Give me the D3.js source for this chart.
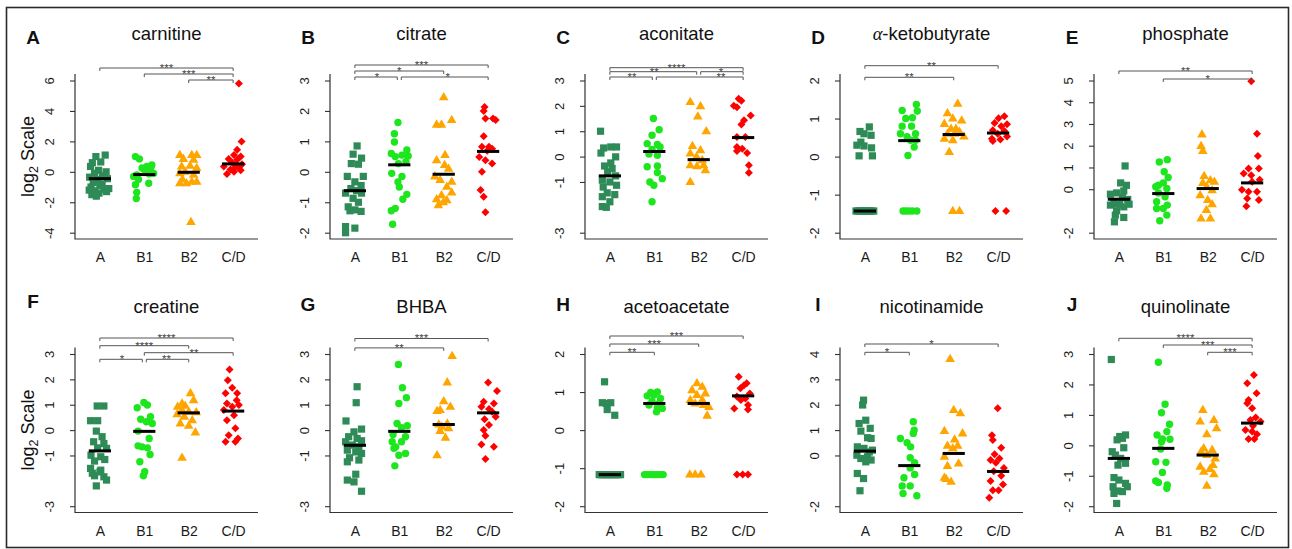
<!DOCTYPE html>
<html>
<head>
<meta charset="utf-8">
<script src="https://cdn.jsdelivr.net/npm/d3@7"></script>
<style>
  html, body { margin: 0; padding: 0; background: #fff; }
  svg text { font-family: "Liberation Sans", Arial, Helvetica, sans-serif; }
</style>
</head>
<body>
<svg id="fig" width="1292" height="549"></svg>
<script>
// ---------- data ----------
const groups = ["A", "B1", "B2", "C/D"];
const panelLetters = ["A", "B", "C", "D", "E", "F", "G", "H", "I", "J"];
const metabolites = ["carnitine", "citrate", "aconitate", "α-ketobutyrate", "phosphate",
                     "creatine", "BHBA", "acetoacetate", "nicotinamide", "quinolinate"];

// y-axis tick labels (log2 scale)
const carnitineTicks    = [-4, -2, 0, 2, 4, 6];
const citrateTicks      = [-2, -1, 0, 1, 2, 3];
const aconitateTicks    = [-3, -1, 0, 1, 2, 3];
const ketobutyrateTicks = [-2, -1, 0, 1, 2];
const phosphateTicks    = [-2, 0, 1, 2, 3, 4, 5];
const creatineTicks     = [-3, -1, 0, 1, 2, 3];
const bhbaTicks         = [-3, -1, 0, 1, 2, 3];
const acetoacetateTicks = [-2, -1, 0, 1, 2];
const nicotinamideTicks = [-2, 0, 1, 2, 3, 4];
const quinolinateTicks  = [-2, -1, 0, 1, 2, 3];

// samples per group: [log2 value, horizontal jitter in 1/100 of a group slot]
const carnitinePoints = [
  [[1.0,-9],[1.1,12],[0.6,-17],[0.65,2],[0.35,-21],[0.1,-3],[0.0,14],[-0.1,-12],[-0.25,6],[-0.35,-23],[-0.5,-5],[-0.45,17],[-0.7,-15],[-0.8,5],[-1.0,-20],[-0.9,0],[-1.1,20],[-1.25,-11],[-1.15,9],[-1.5,-18],[-1.4,-2],[-1.6,-8],[-1.3,15],[-1.2,-24]],
  [[1.0,-20],[0.85,-11],[0.45,17],[0.35,6],[0.25,-5],[0.3,15],[0.15,0],[-0.2,-17],[-0.13,11],[-0.3,-24],[-0.1,21],[-0.5,-13],[-0.75,10],[-0.85,-20],[-1.35,-17],[-1.75,-18]],
  [[1.1,-20],[1.1,7],[1.1,18],[0.85,-12],[0.8,11],[0.35,-16],[0.4,3],[0.25,18],[0.0,-8],[-0.1,-20],[-0.2,11],[-0.5,-14],[-0.65,7],[-0.65,18],[-0.75,-20],[-0.75,-5],[-3.3,5]],
  [[5.8,13],[2.0,19],[1.45,9],[1.1,2],[1.0,17],[0.85,-10],[0.8,9],[0.6,-2],[0.5,20],[0.35,-21],[0.3,13],[0.3,5],[0.15,-6],[0.0,2],[0.1,17],[-0.15,-14]]
];
const carnitineMedians = [-0.45, -0.18, -0.03, 0.52];

const citratePoints = [
  [[0.85,5],[0.58,-4],[0.45,15],[0.27,-8],[0.25,8],[-0.15,19],[-0.15,-17],[-0.33,0],[-0.45,14],[-0.55,-9],[-0.62,4],[-0.7,-21],[-0.7,15],[-0.87,-4],[-1.0,8],[-1.15,-15],[-1.25,0],[-1.3,14],[-1.28,-11],[-1.8,-21],[-1.85,0],[-2.0,-21]],
  [[1.62,-3],[1.25,-11],[0.98,-11],[0.6,-18],[0.72,17],[0.55,6],[0.5,-9],[0.33,15],[0.27,-2],[0.52,20],[-0.05,-17],[-0.15,6],[-0.33,-3],[-0.5,0],[-0.74,17],[-0.9,8],[-1.2,-9],[-1.28,-18],[-1.72,-15]],
  [[2.45,0],[1.55,-16],[1.55,-5],[1.7,18],[0.55,3],[0.38,-16],[0.22,2],[0.1,11],[-0.15,-20],[-0.27,-8],[-0.33,18],[-0.49,7],[-0.68,18],[-0.77,-5],[-0.9,-16],[-0.93,7],[-1.1,-12],[-1.0,-1]],
  [[2.13,-8],[2.0,-10],[1.75,-6],[1.75,11],[1.7,17],[1.17,-10],[0.82,-14],[0.82,2],[0.76,9],[0.69,-2],[0.49,-20],[0.38,-6],[0.27,9],[0.0,-14],[-0.6,-17],[-0.82,-10],[-1.33,-6]]
];
const citrateMedians = [-0.62, 0.23, -0.08, 0.67];

const aconitatePoints = [
  [[1.0,-21],[0.34,-14],[0.38,2],[0.38,15],[0.14,-20],[-0.01,13],[-0.25,2],[-0.37,-12],[-0.47,5],[-0.6,-5],[-0.76,13],[-0.93,-17],[-1.0,0],[-1.13,15],[-1.2,-15],[-1.43,-6],[-1.5,11],[-1.58,-17],[-1.78,0],[-2.0,-8],[-1.97,-17]],
  [[1.5,-2],[1.06,11],[0.84,-5],[0.51,-16],[0.48,7],[0.28,-5],[0.38,13],[0.1,-12],[0.05,7],[-0.4,-16],[-0.37,7],[-0.63,7],[-0.87,18],[-1.0,-10],[-1.13,-1],[-1.78,-5]],
  [[2.15,-19],[1.98,4],[1.58,-2],[1.0,17],[0.42,-14],[0.25,4],[0.12,-19],[-0.01,-5],[-0.14,8],[-0.34,-19],[-0.34,11],[-0.38,-4],[-0.54,15],[-1.0,-19]],
  [[2.28,-10],[2.0,-21],[1.95,-14],[2.2,-4],[1.62,17],[1.43,2],[1.27,-4],[0.77,-14],[0.77,5],[0.38,-14],[0.31,-2],[0.22,-14],[0.14,9],[-0.34,13],[-0.64,13]]
];
const aconitateMedians = [-0.76, 0.2, -0.12, 0.75];

const ketobutyratePoints = [
  [[0.66,-11],[0.78,10],[0.6,-2],[0.56,14],[0.3,-18],[0.28,-2],[0.38,-9],[0.23,15],[0.02,-13],[0.02,17],[-1.43,-20],[-1.43,-16],[-1.43,-12],[-1.43,-8],[-1.43,-4],[-1.43,0],[-1.43,4],[-1.43,8],[-1.43,12],[-1.43,16],[-1.43,20],[-1.43,-2]],
  [[1.37,16],[1.21,-16],[1.2,18],[1.02,7],[1.0,-8],[0.8,-16],[0.8,5],[0.6,14],[0.6,-20],[0.52,-5],[0.43,3],[0.43,14],[0.25,11],[0.03,-3],[-1.43,-14],[-1.43,-8],[-1.43,-1],[-1.43,7],[-1.43,17]],
  [[1.39,9],[1.14,-14],[1.0,-2],[0.86,-21],[0.95,18],[0.73,-6],[0.73,5],[0.65,13],[0.6,-14],[0.53,23],[0.47,-21],[0.43,-2],[0.6,2],[0.12,-10],[-1.43,-2],[-1.43,13]],
  [[1.06,14],[1.01,1],[0.88,-8],[0.85,20],[0.8,7],[0.69,-12],[0.67,14],[0.6,-1],[0.53,20],[0.47,-14],[0.45,5],[0.41,-12],[-1.43,-6],[-1.43,18]]
];
const ketobutyrateMedians = [-1.43, 0.42, 0.58, 0.62];

const phosphatePoints = [
  [[1.07,14],[0.29,4],[0.18,17],[-0.08,11],[-0.23,-19],[-0.17,-5],[-0.38,8],[-0.47,20],[-0.66,-11],[-0.69,2],[-0.69,23],[-0.73,-19],[-0.81,11],[-0.99,-5],[-1.3,11],[-1.19,-8],[-1.5,-10]],
  [[1.36,9],[1.25,-9],[0.8,2],[0.54,11],[0.29,0],[0.18,-11],[0.11,-17],[0.03,8],[-0.17,-11],[-0.35,4],[-0.58,-15],[-0.73,9],[-0.89,0],[-0.89,-15],[-1.19,8],[-1.45,-8]],
  [[2.52,-13],[1.99,-15],[1.76,-11],[0.61,-8],[0.41,6],[0.34,15],[0.29,-11],[0.11,-2],[-0.05,10],[-0.28,-17],[-0.5,0],[-0.69,10],[-0.96,-3],[-1.35,-15],[-1.35,6]],
  [[4.97,-2],[2.55,11],[1.53,13],[0.95,-8],[0.95,15],[0.72,-19],[0.64,-2],[0.44,17],[0.34,0],[-0.02,-23],[-0.12,-8],[-0.12,11],[-0.43,-11],[-0.5,15],[-0.78,-13]]
];
const phosphateMedians = [-0.46, -0.2, 0.03, 0.29];

const creatinePoints = [
  [[0.95,-6],[0.95,9],[0.37,-21],[0.37,-5],[-0.04,-8],[-0.26,5],[-0.46,-14],[-0.53,9],[-0.7,-5],[-0.72,15],[-0.99,-20],[-1.05,2],[-1.22,-12],[-1.16,11],[-1.51,-21],[-1.58,2],[-1.65,0],[-1.7,-17],[-1.8,-12],[-1.84,9],[-1.97,15],[-2.2,-8]],
  [[0.88,-16],[1.09,-1],[0.99,7],[0.53,14],[0.43,-8],[0.33,5],[0.26,18],[-0.04,-14],[-0.33,11],[-0.62,-14],[-0.66,-5],[-0.7,7],[-0.96,13],[-1.25,-10],[-1.64,1],[-1.8,-2]],
  [[1.45,4],[1.05,-15],[1.18,11],[0.96,-8],[0.92,-25],[0.79,-15],[0.72,0],[0.7,17],[0.62,-26],[0.53,-10],[0.39,8],[0.26,-19],[0.17,0],[-0.09,15],[-1.09,-15]],
  [[2.39,-8],[1.97,-12],[1.67,-2],[1.45,-17],[1.45,9],[1.18,8],[1.05,-14],[0.99,13],[0.92,-2],[0.79,-21],[0.59,2],[0.39,-14],[0.07,5],[-0.2,-10],[-0.33,11],[-0.46,-17],[-0.46,5]]
];
const creatineMedians = [-0.82, -0.05, 0.68, 0.75];

const bhbaPoints = [
  [[1.71,5],[1.08,3],[0.36,-20],[0.04,15],[-0.07,-2],[-0.26,-14],[-0.33,5],[-0.46,-21],[-0.42,15],[-0.59,-6],[-0.66,9],[-0.79,-17],[-0.86,2],[-0.92,15],[-1.09,-12],[-1.18,9],[-1.25,-17],[-1.74,2],[-1.97,-17],[-2.04,-2],[-2.41,15]],
  [[2.59,-2],[1.67,7],[1.28,16],[1.05,-1],[0.26,-5],[0.17,18],[0.09,5],[-0.17,-14],[-0.26,14],[-0.46,-16],[-0.46,5],[-0.66,-8],[-0.72,-12],[-0.92,14],[-0.99,-1],[-1.41,-10]],
  [[2.92,19],[1.88,8],[1.14,0],[0.75,-15],[0.92,15],[0.79,-8],[0.26,8],[0.22,-11],[0.13,-4],[0.07,11],[-0.04,-8],[-0.3,4],[-0.99,-15]],
  [[1.88,0],[1.54,20],[1.12,-10],[1.05,13],[0.92,-15],[0.83,2],[0.72,9],[0.53,17],[0.43,-8],[0.2,2],[0.0,-10],[-0.22,-6],[-0.57,-15],[-0.66,13],[-1.14,-6]]
];
const bhbaMedians = [-0.6, -0.05, 0.22, 0.68];

const acetoacetatePoints = [
  [[1.27,-12],[0.72,-17],[0.72,2],[0.7,-8],[0.54,-6],[0.39,11],[-1.17,-24],[-1.17,-20],[-1.17,-16],[-1.17,-12],[-1.17,-8],[-1.17,-4],[-1.17,0],[-1.17,4],[-1.17,8],[-1.17,12],[-1.17,16],[-1.17,20],[-1.17,24]],
  [[0.99,-8],[1.0,7],[0.92,-1],[0.9,-16],[0.83,14],[0.75,-5],[0.7,11],[0.66,-12],[0.59,7],[0.48,5],[0.57,18],[-1.17,-22],[-1.17,-16],[-1.17,-10],[-1.17,-4],[-1.17,2],[-1.17,8],[-1.17,14],[-1.17,20]],
  [[1.23,-4],[1.14,8],[1.05,-15],[0.96,15],[0.92,-4],[0.79,-19],[0.79,8],[0.7,-8],[0.66,11],[0.61,23],[0.38,19],[-1.17,-20],[-1.17,-8],[-1.17,5]],
  [[1.4,-10],[1.18,2],[1.23,8],[1.1,-6],[0.96,15],[0.88,-14],[0.83,5],[0.79,-5],[0.66,11],[0.57,-20],[0.54,11],[-1.17,-14],[-1.17,-1],[-1.17,11]]
];
const acetoacetateMedians = [-1.17, 0.7, 0.7, 0.9];

const nicotinamidePoints = [
  [[2.18,-3],[1.99,-5],[1.26,-13],[1.39,2],[0.96,-9],[1.07,12],[0.7,6],[0.67,14],[0.34,-17],[0.28,-2],[0.21,17],[0.14,10],[0.01,-18],[-0.05,6],[-0.12,-9],[-0.18,14],[-0.25,2],[-0.71,-17],[-0.91,-3],[-1.39,-11]],
  [[1.33,9],[1.0,11],[0.87,9],[0.67,-20],[0.5,-5],[0.34,3],[-0.09,2],[-0.29,12],[-0.49,2],[-0.75,12],[-0.88,-12],[-1.2,-16],[-1.2,2],[-1.5,-14],[-1.59,17]],
  [[3.8,-8],[1.79,0],[1.66,15],[0.96,-21],[0.87,20],[0.63,2],[0.38,-14],[0.38,9],[0.28,-2],[-0.05,-21],[-0.32,11],[-0.42,-14],[-0.88,-21],[-0.93,-17],[-1.04,-6]],
  [[1.86,-1],[0.8,-14],[0.61,-12],[0.3,7],[0.05,-8],[-0.18,-17],[-0.12,3],[-0.29,-5],[-0.49,13],[-0.62,-10],[-0.8,7],[-1.01,-17],[-1.14,11],[-1.37,1],[-1.37,-12],[-1.67,-20]]
];
const nicotinamideMedians = [0.17, -0.4, 0.08, -0.63];

const quinolinatePoints = [
  [[2.82,-17],[0.29,2],[0.34,15],[0.23,8],[0.18,-4],[-0.08,11],[-0.21,-15],[-0.32,-8],[-0.43,4],[-0.59,15],[-0.65,-2],[-1.06,-11],[-1.14,0],[-1.25,15],[-1.36,-13],[-1.36,19],[-1.5,-2],[-1.52,8],[-1.58,-11],[-1.91,-5]],
  [[2.73,-11],[1.35,4],[1.07,-4],[0.69,14],[0.45,8],[0.34,-14],[0.21,-2],[0.2,15],[0.12,-4],[-0.12,-6],[-0.54,-17],[-0.56,6],[-0.89,-2],[-1.17,-17],[-1.22,-11],[-1.3,9],[-1.41,8]],
  [[1.16,-11],[0.78,-17],[0.83,14],[0.56,20],[0.36,-2],[-0.1,-9],[-0.15,10],[-0.21,-15],[-0.32,-2],[-0.43,17],[-0.65,12],[-0.7,-17],[-0.78,5],[-0.87,-9],[-0.95,14],[-1.33,-2]],
  [[2.31,4],[2.04,-11],[1.71,10],[1.49,-8],[1.38,-11],[1.22,0],[0.91,8],[0.83,-4],[0.78,19],[0.64,2],[0.5,-15],[0.45,0],[0.36,11],[0.21,-8],[0.21,5]]
];
const quinolinateMedians = [-0.43, -0.1, -0.32, 0.73];

// significance brackets: [from group, to group, tier (0 = lowest), stars, optional label position]
const carnitineSig    = [[1,4,2,"***"],[2,4,1,"***"],[3,4,0,"**"]];
const citrateSig      = [[1,4,2,"***"],[1,3,1,"*"],[1,2,0,"*"],[2,4,0,"*",3.09]];
const aconitateSig    = [[1,4,2,"****"],[1,3,1,"**"],[3,4,1,"*"],[1,2,0,"**"],[2,4,0,"**",3.5]];
const ketobutyrateSig = [[1,4,1,"**"],[1,3,0,"**"]];
const phosphateSig    = [[1,4,1,"**"],[2,4,0,"*"]];
const creatineSig     = [[1,4,3,"****"],[1,3,2,"****"],[2,4,1,"**",3.12],[1,2,0,"*"],[2,3,0,"**"]];
const bhbaSig         = [[1,4,1,"***"],[1,3,0,"**"]];
const acetoacetateSig = [[1,4,2,"***"],[1,3,1,"***"],[1,2,0,"**"]];
const nicotinamideSig = [[1,4,1,"*"],[1,2,0,"*"]];
const quinolinateSig  = [[1,4,2,"****"],[2,4,1,"***"],[3,4,0,"***"]];

const panels = [
  { ticks: carnitineTicks,    points: carnitinePoints,    medians: carnitineMedians,    sig: carnitineSig },
  { ticks: citrateTicks,      points: citratePoints,      medians: citrateMedians,      sig: citrateSig },
  { ticks: aconitateTicks,    points: aconitatePoints,    medians: aconitateMedians,    sig: aconitateSig },
  { ticks: ketobutyrateTicks, points: ketobutyratePoints, medians: ketobutyrateMedians, sig: ketobutyrateSig },
  { ticks: phosphateTicks,    points: phosphatePoints,    medians: phosphateMedians,    sig: phosphateSig },
  { ticks: creatineTicks,     points: creatinePoints,     medians: creatineMedians,     sig: creatineSig },
  { ticks: bhbaTicks,         points: bhbaPoints,         medians: bhbaMedians,         sig: bhbaSig },
  { ticks: acetoacetateTicks, points: acetoacetatePoints, medians: acetoacetateMedians, sig: acetoacetateSig },
  { ticks: nicotinamideTicks, points: nicotinamidePoints, medians: nicotinamideMedians, sig: nicotinamideSig },
  { ticks: quinolinateTicks,  points: quinolinatePoints,  medians: quinolinateMedians,  sig: quinolinateSig }
].map((p, i) => Object.assign(p, { letter: panelLetters[i], title: metabolites[i] }));

// ---------- layout & style ----------
const colors = ["#2E8B57", "#1EE61E", "#FFA500", "#FF0000"];
const colAxisX = [75, 330, 585, 840, 1094];
const rowTop = [74, 347.5];
const rowBottom = [239, 512.5];
const plotWidth = 183;
const titleBaseline = [40, 313];
const letterBaseline = [44, 311];
// vertical offset (px, from plot top) of each bracket tier, per panel
const tierOffsets = [
  [6, 0, -6], [3, -3, -9], [3, -2.3, -6.3], [3.3, -8.3], [5, -3],
  [11.8, 5.2, -1.8, -9.5], [0.4, -9], [4.8, -3.5, -11.5], [4.8, -3.5], [4.8, -2.5, -9.2]
];

const markerPaths = [
  "M-3.6,-3.6H3.6V3.6H-3.6Z",                            // filled square
  d3.symbol(d3.symbolCircle, Math.PI * 3.7 * 3.7)(),     // filled circle
  "M0,-5.3L4.8,3L-4.8,3Z",                               // filled triangle
  "M0,-4L4,0L0,4L-4,0Z"                                  // filled diamond
];

const svg = d3.select("#fig");

// figure frame
svg.append("rect")
  .attr("x", 6.5).attr("y", 7.5).attr("width", 1282).attr("height", 540)
  .attr("fill", "none").attr("stroke", "#2a2a2a").attr("stroke-width", 1.6);

panels.forEach((p, k) => {
  const row = Math.floor(k / 5), col = k % 5;
  const x0 = colAxisX[col], top = rowTop[row], bottom = rowBottom[row];
  const g = svg.append("g");

  const x = d3.scaleLinear().domain([0.44, 4.56]).range([x0, x0 + plotWidth]);
  const y = d3.scaleLinear()
    .domain([d3.min(p.ticks), d3.max(p.ticks)])
    .range([bottom - 6.3, top + 6.5]);

  // L-shaped frame
  g.append("path")
    .attr("d", `M${x0},${top}V${bottom}H${x0 + plotWidth}`)
    .attr("fill", "none").attr("stroke", "#333").attr("stroke-width", 1.2);

  // y axis
  const ya = g.append("g")
    .attr("transform", `translate(${x0},0)`)
    .call(d3.axisLeft(y).tickValues(p.ticks).tickSize(5).tickFormat(d => String(d)));
  ya.attr("font-family", null).attr("font-size", null);
  ya.select(".domain").remove();
  ya.selectAll(".tick line").attr("stroke", "#333").attr("stroke-width", 1.1);
  ya.selectAll(".tick text")
    .attr("x", null).attr("dy", null)
    .attr("text-anchor", "middle")
    .attr("transform", "translate(-21,0) rotate(-90)")
    .attr("fill", "#1a1a1a")
    .style("font-size", "13px");

  // x axis labels
  const xa = g.append("g")
    .attr("transform", `translate(0,${bottom})`)
    .call(d3.axisBottom(x).tickValues([1, 2, 3, 4]).tickSize(0).tickFormat((d, i) => groups[i]));
  xa.attr("font-family", null).attr("font-size", null);
  xa.select(".domain").remove();
  xa.selectAll(".tick text")
    .attr("y", 23).attr("dy", null)
    .attr("fill", "#1a1a1a")
    .style("font-size", "14px");

  // points
  p.points.forEach((pts, gi) => {
    g.append("g").selectAll("path")
      .data(pts)
      .join("path")
      .attr("transform", d => `translate(${x(gi + 1 + d[1] / 100)},${y(d[0])})`)
      .attr("d", markerPaths[gi])
      .attr("fill", colors[gi]);
  });

  // medians
  g.append("g").selectAll("line")
    .data(p.medians)
    .join("line")
    .attr("x1", (d, i) => x(i + 1 - 0.25))
    .attr("x2", (d, i) => x(i + 1 + 0.25))
    .attr("y1", d => y(d)).attr("y2", d => y(d))
    .attr("stroke", "#000").attr("stroke-width", 3);

  // significance brackets
  const bg = g.append("g");
  p.sig.forEach(s => {
    const [a, b, tier, label, at] = s;
    const yl = top + tierOffsets[k][tier];
    let xa1 = x(a), xb1 = x(b);
    if (p.sig.some(o => o !== s && o[2] === tier && o[1] === a)) xa1 += 2;
    if (p.sig.some(o => o !== s && o[2] === tier && o[0] === b)) xb1 -= 2;
    bg.append("path")
      .attr("d", `M${xa1},${yl + 3}V${yl}H${xb1}V${yl + 3}`)
      .attr("fill", "none").attr("stroke", "#555").attr("stroke-width", 1);
    bg.append("text")
      .attr("x", x(at !== undefined ? at : (a + b) / 2))
      .attr("y", yl + 3.8)
      .attr("text-anchor", "middle")
      .attr("fill", "#444")
      .style("font-size", "11.5px")
      .text(label);
  });

  // title
  const t = g.append("text")
    .attr("x", x0 + plotWidth / 2)
    .attr("y", titleBaseline[row])
    .attr("text-anchor", "middle")
    .attr("fill", "#111")
    .style("font-size", "18.5px");
  if (p.title.startsWith("α")) {
    t.append("tspan").style("font-family", "'Liberation Serif', serif").style("font-style", "italic").text("α");
    t.append("tspan").text(p.title.slice(1));
  } else {
    t.text(p.title);
  }

  // panel letter
  g.append("text")
    .attr("x", col === 0 ? 33 : x0 - 22)
    .attr("y", letterBaseline[row] - (k === 5 ? 3 : 0))
    .attr("text-anchor", "middle")
    .attr("font-weight", "bold")
    .attr("fill", "#111")
    .style("font-size", "19px")
    .text(p.letter);

  // y-axis title on the first column
  if (col === 0) {
    const yt = g.append("text")
      .attr("transform", `translate(34,${(top + bottom) / 2}) rotate(-90)`)
      .attr("text-anchor", "middle")
      .attr("fill", "#111")
      .style("font-size", "18px");
    yt.append("tspan").text("log");
    yt.append("tspan").attr("dy", 4).style("font-size", "12.5px").text("2");
    yt.append("tspan").attr("dy", -4).text(" Scale");
  }
});
</script>
</body>
</html>
